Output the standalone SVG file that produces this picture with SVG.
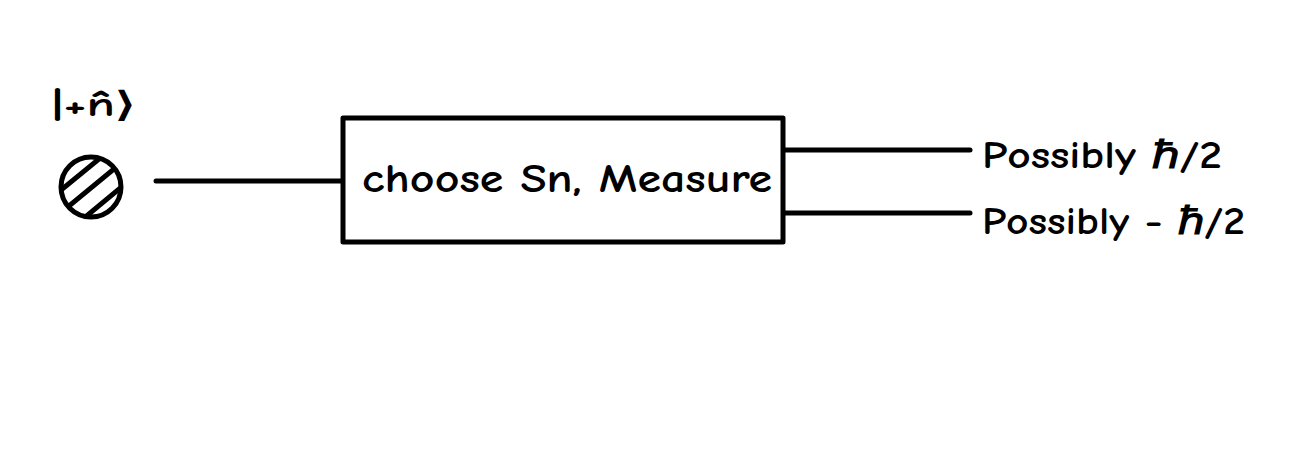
<svg xmlns="http://www.w3.org/2000/svg" width="1301" height="451" viewBox="0 0 1301 451">
<style>
.s{fill:none;stroke:#000;stroke-width:5;stroke-linecap:round;stroke-linejoin:round}
.t{font-family:"Comic Neue","Liberation Sans",sans-serif;fill:#000;font-weight:bold}
</style>
<defs>
<clipPath id="cc"><circle cx="91" cy="187" r="29"/></clipPath>
</defs>
<rect width="1301" height="451" fill="#fff"/>
<g id="state">
<circle class="s" cx="91" cy="187" r="30"/>
<g clip-path="url(#cc)">
<path class="s" d="M55,195 L110,150 M58,215 L125,160 M72,228 L130,180 M90,232 L135,200"/>
</g>
<text class="t" x="52" y="116" font-size="34" textLength="83" lengthAdjust="spacingAndGlyphs">|+n̂⟩</text>
</g>
<g id="measure">
<rect class="s" x="343" y="118" width="440" height="124"/>
<text class="t" x="362" y="192" font-size="40" textLength="410" lengthAdjust="spacingAndGlyphs">choose Sn, Measure</text>
</g>
<g id="out1">
<text class="t" x="982" y="168" font-size="38" textLength="240" lengthAdjust="spacingAndGlyphs">Possibly ℏ/2</text>
</g>
<g id="out2">
<text class="t" x="982" y="234" font-size="38" textLength="263" lengthAdjust="spacingAndGlyphs">Possibly - ℏ/2</text>
</g>
<g id="connectors">
<path class="s" d="M156,181 L342,181"/>
<path class="s" d="M785,150 L970,150"/>
<path class="s" d="M785,213 L970,213"/>
</g>
</svg>
